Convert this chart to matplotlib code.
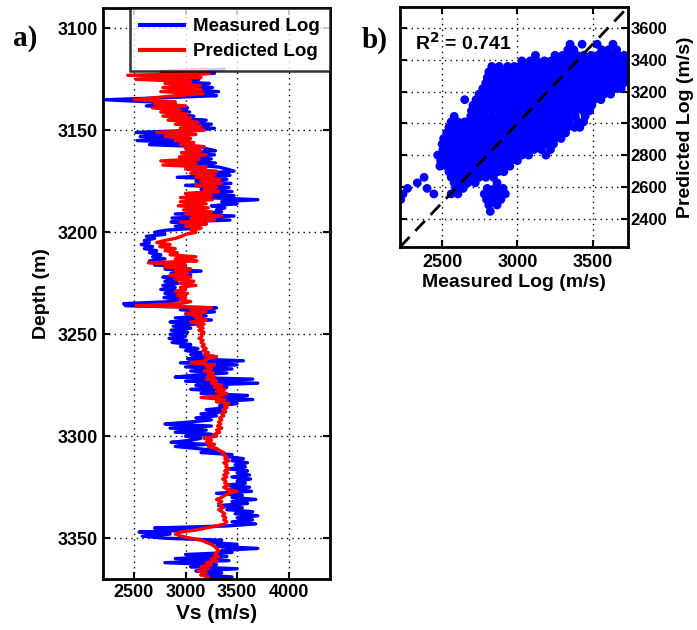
import numpy as np
import matplotlib
matplotlib.use("Agg")
import matplotlib.pyplot as plt

# ---------------- data: panel a (well log, 1 m sampling) ----------------
depth_m = list(range(3120, 3371))

measured_vs = [
    3370, 3050, 3280, 2900, 2820, 3130, 2850, 3230, 3000, 3260,
    2950, 3320, 3050, 3300, 2780, 2220, 2650, 2900, 2620, 3020,
    2800, 3040, 2870, 3080, 2900, 3200, 2950, 3250, 3000, 3280,
    3080, 2520, 2900, 2560, 2950, 2530, 3000, 2650, 3150, 3200,
    3290, 2960, 3280, 3000, 3250, 3040, 3290, 3080, 3320, 3400,
    3470, 3200, 3430, 2920, 3400, 3100, 3440, 3000, 3420, 3150,
    3450, 3000, 3470, 3200, 3700, 3350, 3500, 3250, 3380, 3300,
    3350, 2900, 3470, 2870, 3430, 2860, 3200, 2900, 3100, 2800,
    2700, 2800, 2620, 2700, 2600, 2650, 2570, 2680, 2600, 2720,
    2650, 2760, 2680, 2800, 2650, 2750, 2700, 3000, 2800, 3150,
    2860, 3050, 2780, 2950, 2800, 2930, 2780, 2900, 2760, 2950,
    2800, 2980, 2790, 2950, 2850, 2400, 2420, 3300, 2950, 3280,
    3000, 3200, 2900, 3250, 2850, 3100, 2880, 3050, 2860, 3020,
    2850, 3000, 2840, 3010, 2870, 3050, 2950, 3120, 3000, 3150,
    3050, 3300, 3020, 3560, 2950, 3500, 3000, 3450, 3050, 3400,
    3100, 2900, 3650, 3000, 3700, 3100, 3400, 3050, 3350, 3150,
    3600, 3250, 3650, 3300, 3500, 3330, 3400, 3200, 3380, 3150,
    3300, 3100, 3250, 3050, 2800, 3250, 2850, 3200, 2900, 3250,
    3000, 3150, 3050, 2860, 3200, 2900, 3100, 3300, 3150, 3450,
    3400, 3560, 3450, 3600, 3480, 3580, 3420, 3600, 3500, 3620,
    3450, 3630, 3500, 3580, 3400, 3620, 3420, 3640, 3300, 3550,
    3450, 3680, 3450, 3600, 3320, 3550, 3400, 3650, 3480, 3700,
    3500, 3650, 3450, 3680, 3400, 2700, 3100, 2550, 2850, 2580,
    2800, 3350, 3200, 3500, 3300, 3700, 3350, 3450, 3000, 3400,
    2900, 3420, 2800, 3300, 3050, 3500, 3100, 3350, 3150, 3450,
    3200,
]

predicted_vs = [
    3200, 2760, 3230, 2440, 3150, 2520, 3050, 2800, 3140, 2780,
    3150, 2760, 3170, 2900, 2700, 2500, 2900, 2700, 3000, 2680,
    2950, 2760, 3020, 2780, 3050, 2830, 3120, 2900, 3150, 2950,
    3180, 2720, 3100, 2800, 3050, 2900, 3080, 2950, 3180, 3000,
    3150, 2960, 3200, 2940, 3130, 2760, 3100, 2780, 3200, 3000,
    3300, 3050, 3280, 3100, 3330, 3150, 3350, 3100, 3300, 3180,
    3320, 3000, 3250, 2950, 3260, 2950, 3200, 2930, 3220, 2980,
    3250, 3000, 3350, 3050, 3280, 2950, 3200, 3000, 3150, 3050,
    3100, 3000, 2960, 2900, 2800, 2720, 2850, 2750, 2900, 2800,
    2920, 2850, 3100, 2900, 3110, 2640, 3000, 2800, 3050, 2900,
    3020, 2850, 3050, 2900, 3080, 2950, 3100, 2950, 3000, 2900,
    3020, 2920, 3000, 2950, 3050, 2950, 2520, 3250, 3050, 3200,
    3000, 3150, 3100, 3200, 3050, 3180, 3120, 3170, 3130, 3180,
    3150, 3160, 3130, 3170, 3150, 3180, 3160, 3200, 3170, 3220,
    3180, 3300, 3200, 3200, 3050, 3280, 3200, 3250, 3180, 3270,
    3220, 3280, 3200, 3300, 3250, 3350, 3280, 3380, 3300, 3400,
    3350, 3150, 3380, 3300, 3420, 3380, 3400, 3360, 3390, 3350,
    3370, 3330, 3350, 3320, 3340, 3310, 3350, 3300, 3330, 3280,
    3300, 3180, 3250, 3200, 3280, 3220, 3300, 3330, 3370, 3360,
    3400, 3380, 3420, 3370, 3400, 3390, 3420, 3380, 3410, 3370,
    3400, 3360, 3390, 3380, 3420, 3370, 3400, 3500, 3420, 3380,
    3350, 3300, 3350, 3320, 3340, 3370, 3320, 3350, 3380, 3360,
    3390, 3370, 3400, 3380, 3300, 3200, 3100, 2950, 2900, 2960,
    3050, 3150, 3200, 3250, 3280, 3300, 3320, 3300, 3280, 3320,
    3250, 3300, 3200, 3250, 3150, 3220, 3120, 3200, 3150, 3220,
    3200,
]

# ---------------- data: panel b (crossplot, read row by row) ----------------
# each entry: (predicted value, [measured values at that predicted value])
crossplot_rows = [
    (3500, [3350, 3430, 3530, 3635]),
    (3465, [3335, 3375, 3560, 3605, 3660]),
    (3430, [3120, 3250, 3300, 3350, 3395, 3440, 3490, 3535, 3580, 3625, 3670, 3710]),
    (3395, [3030, 3085, 3130, 3180, 3225, 3270, 3315, 3360, 3410, 3455, 3500, 3545,
            3590, 3640, 3685, 3725]),
    (3360, [2830, 2880, 2935, 2980, 3025, 3070, 3115, 3160, 3210, 3255, 3300, 3345,
            3390, 3440, 3485, 3530, 3575, 3620, 3665, 3710]),
    (3325, [2810, 2855, 2900, 2950, 2995, 3040, 3085, 3130, 3180, 3225, 3270, 3315,
            3360, 3410, 3455, 3500, 3545, 3590, 3640, 3685, 3725]),
    (3290, [2800, 2845, 2890, 2935, 2985, 3030, 3075, 3120, 3170, 3215, 3260, 3305,
            3350, 3400, 3445, 3490, 3535, 3580, 3630, 3675, 3720]),
    (3255, [2790, 2835, 2880, 2930, 2975, 3020, 3065, 3110, 3160, 3205, 3250, 3295,
            3340, 3390, 3435, 3480, 3525, 3570, 3620, 3665, 3705]),
    (3220, [2770, 2815, 2860, 2910, 2955, 3000, 3045, 3095, 3140, 3185, 3230, 3280,
            3325, 3370, 3415, 3460, 3510, 3555, 3600, 3650, 3690]),
    (3185, [2745, 2790, 2840, 2885, 2930, 2975, 3020, 3070, 3115, 3160, 3205, 3255,
            3300, 3345, 3390, 3440, 3485, 3530, 3575, 3620]),
    (3150, [2650, 2725, 2770, 2815, 2865, 2910, 2955, 3000, 3050, 3095, 3140, 3185,
            3235, 3280, 3325, 3370, 3420, 3465, 3510, 3555]),
    (3115, [2705, 2750, 2795, 2840, 2890, 2935, 2980, 3025, 3075, 3120, 3165, 3210,
            3260, 3305, 3350, 3395, 3445, 3495]),
    (3080, [2695, 2740, 2785, 2830, 2880, 2925, 2970, 3015, 3065, 3110, 3155, 3200,
            3250, 3295, 3340, 3385, 3435, 3480]),
    (3045, [2580, 2690, 2735, 2780, 2830, 2875, 2920, 2965, 3015, 3060, 3105, 3150,
            3200, 3245, 3290, 3335, 3385, 3450]),
    (3010, [2560, 2605, 2650, 2700, 2745, 2790, 2840, 2885, 2930, 2975, 3025, 3070,
            3115, 3160, 3210, 3255, 3300, 3345, 3400, 3440]),
    (2975, [2545, 2590, 2635, 2685, 2730, 2775, 2820, 2870, 2915, 2960, 3005, 3055,
            3100, 3145, 3190, 3240, 3285, 3330, 3380, 3415]),
    (2940, [2530, 2575, 2620, 2670, 2715, 2760, 2805, 2855, 2900, 2945, 2990, 3040,
            3085, 3130, 3175, 3225, 3270, 3320]),
    (2905, [2510, 2555, 2600, 2650, 2695, 2740, 2785, 2835, 2880, 2925, 2970, 3020,
            3065, 3110, 3160, 3205, 3250, 3290]),
    (2870, [2500, 2545, 2590, 2640, 2685, 2730, 2775, 2825, 2870, 2915, 2960, 3010,
            3055, 3100, 3150, 3195, 3240]),
    (2835, [2505, 2550, 2600, 2645, 2690, 2735, 2785, 2830, 2875, 2920, 2970, 3015,
            3060, 3110, 3160, 3220]),
    (2800, [2470, 2520, 2565, 2610, 2660, 2705, 2750, 2795, 2845, 2890, 2935, 2980,
            3030, 3075, 3190]),
    (2765, [2490, 2540, 2585, 2630, 2680, 2725, 2770, 2815, 2865, 2910, 2955, 3000]),
    (2730, [2485, 2530, 2575, 2625, 2670, 2715, 2760, 2810, 2855, 2900, 2950]),
    (2695, [2545, 2590, 2640, 2685, 2730, 2775, 2825, 2870, 2910]),
    (2660, [2380, 2560, 2605, 2650, 2700, 2745, 2790, 2840]),
    (2625, [2335, 2580, 2625, 2670, 2720, 2865]),
    (2590, [2270, 2400, 2590, 2640, 2800, 2850, 2905]),
    (2555, [2240, 2445, 2560, 2605, 2780, 2830, 2880, 2920]),
    (2520, [2225, 2795, 2845, 2890]),
    (2485, [2810, 2865]),
    (2445, [2820]),
]
cross_measured = [m for p, ms in crossplot_rows for m in ms]
cross_predicted = [p for p, ms in crossplot_rows for m in ms]

r2_text = "R$^{2}$ = 0.741"
a_xticks = [2500, 3000, 3500, 4000]
a_yticks = [3100, 3150, 3200, 3250, 3300, 3350]
b_xticks = [2500, 3000, 3500]
b_yticks = [2400, 2600, 2800, 3000, 3200, 3400, 3600]

# ---------------- style ----------------
plt.rcParams['font.family'] = ['Liberation Sans', 'DejaVu Sans']
plt.rcParams['font.weight'] = 'bold'
plt.rcParams['axes.labelweight'] = 'bold'

fig = plt.figure(figsize=(6.97, 6.30), dpi=100)

def style_axes(ax):
    for s in ax.spines.values():
        s.set_linewidth(2.0)
        s.set_color('black')
        s.set_zorder(5)
    ax.tick_params(direction='in', length=5, width=1.5, top=True, right=True,
                   labelsize=13, colors='black')
    ax.grid(True, color='black', linestyle=(0, (1, 3)), linewidth=1.0)
    ax.set_axisbelow(True)

# ---------------- panel a ----------------
axa = fig.add_axes([0.1478, 0.081, 0.3257, 0.9063])
axa.plot(measured_vs, depth_m, color=(0, 0, 1), lw=2.4, label='Measured Log')
axa.plot(predicted_vs, depth_m, color=(1, 0, 0), lw=2.4, label='Predicted Log')
axa.set_xlim(2200, 4400)
axa.set_ylim(3370, 3090)
axa.set_xticks(a_xticks)
axa.set_yticks(a_yticks)
style_axes(axa)
axa.set_xlabel('Vs (m/s)', fontsize=15, labelpad=2)
axa.set_ylabel('Depth (m)', fontsize=14, labelpad=6)
leg = axa.legend(loc='upper right', fontsize=13.5, frameon=True, fancybox=False,
                 borderaxespad=0.0, handlelength=2.3, handletextpad=0.5,
                 borderpad=0.55, labelspacing=0.42)
leg.get_frame().set_edgecolor('black')
leg.get_frame().set_linewidth(1.8)
leg.set_zorder(6)
for t in leg.get_texts():
    t.set_fontweight('bold')
for l in leg.get_lines():
    l.set_linewidth(3)

# ---------------- panel b ----------------
axb = fig.add_axes([0.5739, 0.6079, 0.3271, 0.381])
lim = (2220, 3735)
axb.scatter(cross_measured, cross_predicted, s=40, color=(0, 0, 1),
            edgecolors='none', zorder=2)
axb.plot(lim, lim, color='black', lw=2, linestyle=(0, (5, 3)), zorder=3)
axb.set_xlim(*lim)
axb.set_ylim(*lim)
axb.set_xticks(b_xticks)
axb.set_yticks(b_yticks)
style_axes(axb)
axb.yaxis.tick_right()
axb.yaxis.set_label_position('right')
axb.tick_params(axis='y', left=True, right=True, labelleft=False, labelright=True,
                labelsize=12, pad=2)
axb.tick_params(axis='x', pad=5)
axb.set_xlabel('Measured Log (m/s)', fontsize=14, labelpad=2)
axb.set_ylabel('Predicted Log (m/s)', fontsize=14, labelpad=7)
axb.text(0.066, 0.85, r2_text, transform=axb.transAxes, fontsize=14,
         fontweight='bold', ha='left', va='center')

# ---------------- panel letters ----------------
fig.text(13/697, 1 - 38/630, 'a)', fontsize=21, fontweight='bold',
         family='Liberation Serif', ha='left', va='center')
fig.text(362/697, 1 - 40/630, 'b)', fontsize=21, fontweight='bold',
         family='Liberation Serif', ha='left', va='center')

fig.savefig('out.png', dpi=100)
